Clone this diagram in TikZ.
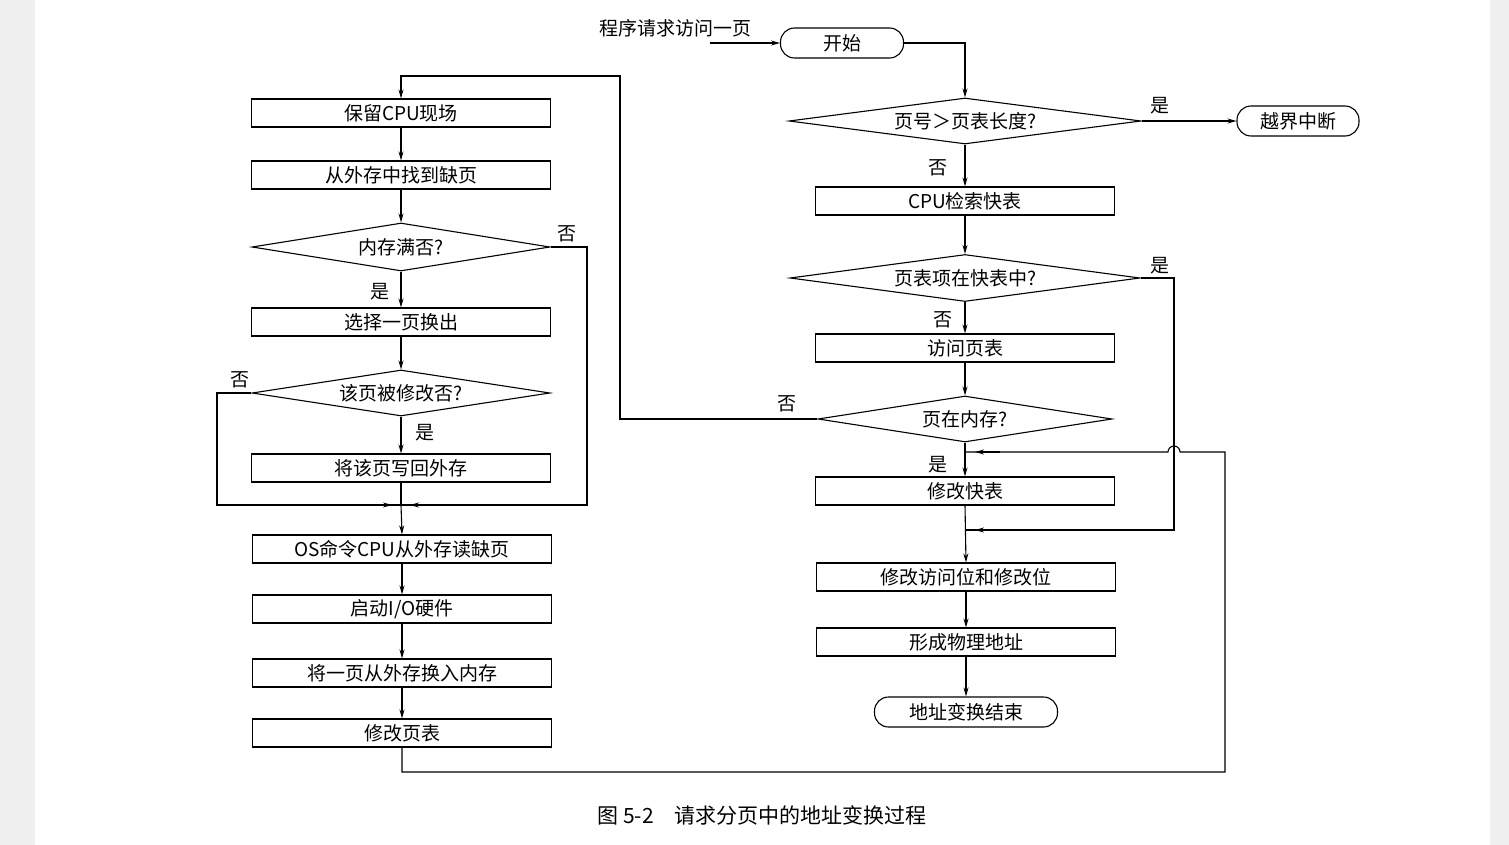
\documentclass[tikz,border=0pt]{standalone}
\usepackage{fontspec}
\setmainfont{Noto Sans CJK SC}
\usetikzlibrary{arrows.meta,shapes.geometric}
\begin{document}
\begin{tikzpicture}[x=1pt,y=-1pt,
  line width=1.1pt,
  arr/.style={-{Stealth[length=9pt,width=5pt]}},
  box/.style={draw,minimum width=299pt,minimum height=28pt,inner sep=0pt,font=\fontsize{19}{19}\selectfont},
  dia/.style={draw,diamond,aspect=6,inner sep=0pt,font=\fontsize{19}{19}\selectfont},
  term/.style={draw,rounded corners=14pt,minimum height=30pt,inner sep=0pt,font=\fontsize{19}{19}\selectfont},
  lab/.style={font=\fontsize{19}{19}\selectfont,inner sep=0pt}]
\useasboundingbox (0,0) rectangle (1509,845);
\fill[gray!12] (0,0) rectangle (35,845);
\fill[gray!12] (1490,0) rectangle (1509,845);
% left column
\node[box] (a1) at (401,113) {保留CPU现场};
\node[box] (a2) at (401,175) {从外存中找到缺页};
\node[dia,minimum width=298pt,minimum height=48pt] (d1) at (401,247) {内存满否?};
\node[box] (a3) at (401,322) {选择一页换出};
\node[dia,minimum width=298pt,minimum height=46pt] (d2) at (401,393) {该页被修改否?};
\node[box] (a4) at (401,468) {将该页写回外存};
\coordinate (j1) at (401,505);
\node[box] (a5) at (402,549) {OS命令CPU从外存读缺页};
\node[box] (a6) at (402,609) {启动I/O硬件};
\node[box] (a7) at (402,673) {将一页从外存换入内存};
\node[box] (a8) at (402,733) {修改页表};
% right column
\node[term,minimum width=123pt] (s) at (842,43) {开始};
\node[lab] (in) at (675,28) {程序请求访问一页};
\coordinate (inl) at (710,43);
\node[dia,minimum width=352pt,minimum height=46pt] (b1) at (965,121) {页号＞页表长度?};
\node[term,minimum width=122pt] (e1) at (1298,121) {越界中断};
\node[box] (c1) at (965,201) {CPU检索快表};
\node[dia,minimum width=350pt,minimum height=47pt] (b2) at (965,278) {页表项在快表中?};
\node[box] (c2) at (965,348) {访问页表};
\node[dia,minimum width=294pt,minimum height=46pt] (b3) at (965,419) {页在内存?};
\coordinate (j2) at (965,452);
\node[box] (c3) at (965,491) {修改快表};
\coordinate (j3) at (965,530);
\node[box] (c4) at (966,577) {修改访问位和修改位};
\node[box] (c5) at (966,642) {形成物理地址};
\node[term,minimum width=183pt] (e2) at (966,712) {地址变换结束};
% labels
\node[lab] at (1160,106) {是};
\node[lab] at (938,168) {否};
\node[lab] at (1160,266) {是};
\node[lab] at (943,320) {否};
\node[lab] at (787,404) {否};
\node[lab] at (938,465) {是};
\node[lab] at (567,234) {否};
\node[lab] at (380,292) {是};
\node[lab] at (240,380) {否};
\node[lab] at (425,433) {是};
\node[lab,font=\fontsize{21}{21}\selectfont] (cap) at (762,815) {图 5-2\quad 请求分页中的地址变换过程};
% connectors right
\draw[arr] (inl) -- (s.west);
\draw[arr] (s.east) -| (b1.north);
\draw[arr] (b1.east) -- (e1.west);
\draw[arr] (b1.south) -- (c1.north);
\draw[arr] (c1.south) -- (b2.north);
\draw[arr] (b2.south) -- (c2.north);
\draw[arr] (c2.south) -- (b3.north);
\draw[arr] (b3.south) -- (c3.north);
\draw[arr] (c3.south) -- (c4.north);
\draw[arr] (c4.south) -- (c5.north);
\draw[arr] (c5.south) -- (e2.north);
\draw (b2.east) -- (1174,278) -- (1174,530) -- (j3);
\draw[arr] (1174,530) -- (975,530);
\draw[arr] (b3.west) -- (620,419) -- (620,76) -| (a1.north);
% left
\draw[arr] (a1.south) -- (a2.north);
\draw[arr] (a2.south) -- (d1.north);
\draw[arr] (d1.south) -- (a3.north);
\draw[arr] (a3.south) -- (d2.north);
\draw[arr] (d2.south) -- (a4.north);
\draw (a4.south) -- (j1);
\draw[arr] (j1) -- (a5.north);
\draw (d1.east) -- (587,247) -- (587,505) -- (j1);
\draw[arr] (587,505) -- (410,505);
\draw (d2.west) -- (217,393) -- (217,505) -- (j1);
\draw[arr] (217,505) -- (392,505);
\draw[arr] (a5.south) -- (a6.north);
\draw[arr] (a6.south) -- (a7.north);
\draw[arr] (a7.south) -- (a8.north);
% return line
\draw (a8.south) -- (402,772) -- (1225,772) -- (1225,452) -- (1180,452)
  arc[start angle=0,end angle=-180,radius=6] -- (j2);
\draw[arr] (1000,452) -- (975,452);
\end{tikzpicture}
\end{document}
